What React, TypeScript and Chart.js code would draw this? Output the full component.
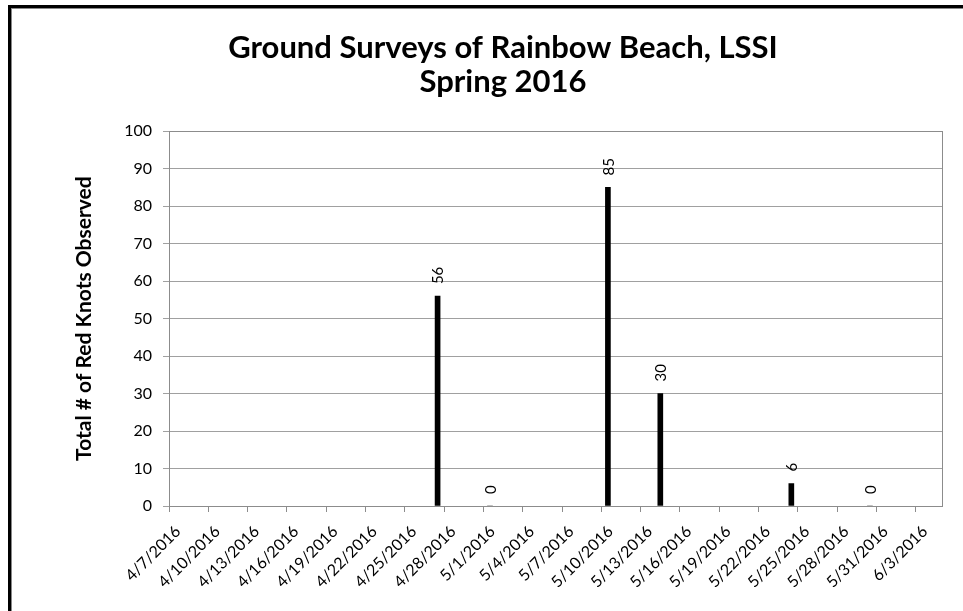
import React, { useEffect, useRef } from "react";
import { Chart, registerables } from "chart.js";

Chart.register(...registerables);

const titleLines = ["Ground Surveys of Rainbow Beach, LSSI", "Spring 2016"];
const yAxisTitle = "Total # of Red Knots Observed";

const surveyDates = ["4/27/2016", "5/1/2016", "5/10/2016", "5/14/2016", "5/24/2016", "5/30/2016"];
const redKnotCounts = [56, 0, 85, 30, 6, 0];

const axisStartDate = "4/7/2016";
const axisEndDate = "6/5/2016";
const xTickDates = [
  "4/7/2016", "4/10/2016", "4/13/2016", "4/16/2016", "4/19/2016", "4/22/2016", "4/25/2016",
  "4/28/2016", "5/1/2016", "5/4/2016", "5/7/2016", "5/10/2016", "5/13/2016", "5/16/2016",
  "5/19/2016", "5/22/2016", "5/25/2016", "5/28/2016", "5/31/2016", "6/3/2016",
];
const yMin = 0;
const yMax = 100;
const yStep = 10;

const FONT = "Lato, 'Open Sans', sans-serif";

function dayNumber(s: string): number {
  const [m, d, y] = s.split("/").map(Number);
  return Date.UTC(y, m - 1, d) / 86400000;
}
function formatDay(v: number): string {
  const dt = new Date(Math.round(v) * 86400000);
  return `${dt.getUTCMonth() + 1}/${dt.getUTCDate()}/${dt.getUTCFullYear()}`;
}

const valueLabelPlugin = {
  id: "valueLabels",
  afterDatasetsDraw(chart: any) {
    const ctx = chart.ctx;
    const meta = chart.getDatasetMeta(0);
    const ds = chart.data.datasets[0];
    meta.data.forEach((bar: any, i: number) => {
      const v = ds.data[i].y;
      ctx.save();
      ctx.translate(bar.x + 1, bar.y - 12);
      ctx.rotate(-Math.PI / 2);
      ctx.font = `15px ${FONT}`;
      ctx.fillStyle = "#000";
      ctx.textAlign = "left";
      ctx.textBaseline = "middle";
      ctx.fillText(String(v), 0, 0);
      ctx.restore();
    });
  },
};

const plotBorderPlugin = {
  id: "plotBorder",
  beforeDatasetsDraw(chart: any) {
    const { ctx, chartArea } = chart;
    ctx.save();
    ctx.strokeStyle = "#8c8c8c";
    ctx.lineWidth = 1;
    ctx.strokeRect(
      Math.round(chartArea.left) + 0.5,
      Math.round(chartArea.top) + 0.5,
      Math.round(chartArea.right - chartArea.left),
      Math.round(chartArea.bottom - chartArea.top)
    );
    ctx.restore();
  },
};

export default function App() {
  const canvasRef = useRef<HTMLCanvasElement | null>(null);

  useEffect(() => {
    if (!canvasRef.current) return;
    const points = surveyDates.map((d, i) => ({ x: dayNumber(d) + 0.5, y: redKnotCounts[i] }));
    const chart = new Chart(canvasRef.current, {
      type: "bar",
      data: {
        datasets: [
          {
            data: points,
            backgroundColor: "#000",
            borderWidth: 0,
            barThickness: 5,
          } as any,
        ],
      },
      options: {
        responsive: false,
        animation: false,
        layout: { padding: { left: 64, right: 21, top: 0, bottom: 0 } },
        plugins: {
          legend: { display: false },
          tooltip: { enabled: false },
          title: {
            display: true,
            text: titleLines,
            color: "#000",
            font: { family: FONT, size: 31, weight: "bold", lineHeight: 1.1 },
            padding: { top: 31, bottom: 32 },
          },
        },
        scales: {
          x: {
            type: "linear",
            offset: false,
            min: dayNumber(axisStartDate),
            max: dayNumber(axisEndDate),
            afterBuildTicks: (scale: any) => {
              scale.ticks = xTickDates.map((s) => ({ value: dayNumber(s) }));
            },
            afterFit: (scale: any) => {
              scale.height = 105;
            },
            ticks: {
              minRotation: 45,
              maxRotation: 45,
              autoSkip: false,
              color: "#000",
              padding: 10,
              labelOffset: 9,
              font: { family: FONT, size: 16 },
              callback: (v: any) => formatDay(Number(v)),
            },
            grid: {
              offset: false,
              drawOnChartArea: false,
              drawTicks: true,
              tickLength: 6,
              color: "#8c8c8c",
            },
            border: { color: "#8c8c8c" },
          },
          y: {
            min: yMin,
            max: yMax,
            afterFit: (scale: any) => {
              scale.width = 169 - 64;
            },
            ticks: {
              stepSize: yStep,
              color: "#000",
              padding: 11,
              font: { family: FONT, size: 16 },
            },
            grid: {
              color: "#a0a0a0",
              tickLength: 6,
            },
            border: { color: "#8c8c8c" },
            title: {
              display: true,
              text: yAxisTitle,
              color: "#000",
              font: { family: FONT, size: 21, weight: "bold" },
              padding: { top: 8, bottom: 0 },
            },
          },
        },
      },
      plugins: [plotBorderPlugin, valueLabelPlugin],
    } as any);
    return () => chart.destroy();
  }, []);

  return (
    <div
      style={{
        position: "absolute",
        left: 0,
        top: 0,
        width: 963,
        height: 611,
        overflow: "hidden",
        background: "#fff",
      }}
    >
      <div
        style={{
          position: "absolute",
          left: 8,
          top: 5,
          width: 1000,
          height: 700,
          borderLeft: "3px solid #000",
          borderTop: "3px solid #000",
          boxShadow: "inset 1px 1px 0 #888",
        }}
      />
      <canvas
        ref={canvasRef}
        width={963}
        height={611}
        style={{ position: "absolute", left: 0, top: 0, display: "block" }}
      />
    </div>
  );
}
